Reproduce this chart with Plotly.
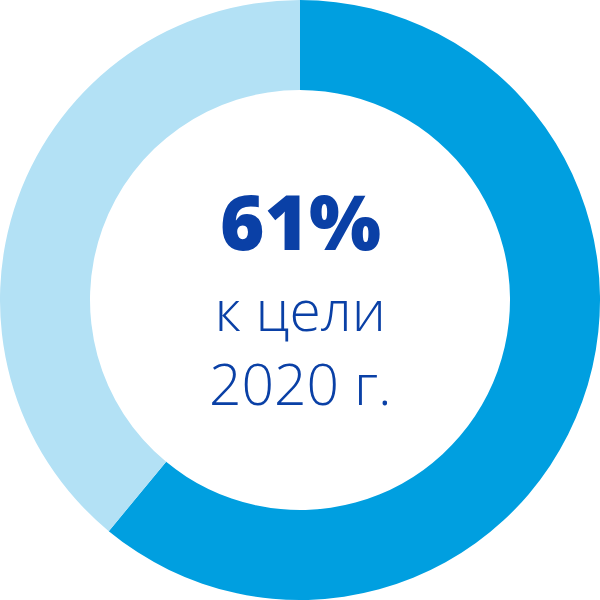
import plotly.graph_objects as go

labels = ['Достигнуто', 'Осталось']
values = [61, 39]
colors = ['#009fe0', '#b3e1f5']
center_value = '61%'
center_lines = ['к цели', '2020 г.']

fig = go.Figure()
fig.add_trace(go.Pie(
    labels=labels,
    values=values,
    hole=0.7,
    sort=False,
    direction='clockwise',
    rotation=0,
    marker=dict(colors=colors, line=dict(width=0)),
    textinfo='none',
    hoverinfo='label+percent',
    showlegend=False,
))

text_color = '#0a40a6'
fig.add_annotation(x=0.5, y=0.632, xref='paper', yref='paper', text=center_value,
                   showarrow=False, font=dict(family='Open Sans', size=76, color=text_color, weight=800))
# both caption lines in one block so they don't collide
fig.add_annotation(x=0.5, y=0.423, xref='paper', yref='paper', text='<br>'.join(center_lines),
                   showarrow=False, align='center',
                   font=dict(family='Open Sans', size=57, color=text_color, weight=300))

fig.update_layout(
    width=600, height=600,
    margin=dict(l=0, r=0, t=0, b=0),
    paper_bgcolor='white',
    plot_bgcolor='white',
)

# drop the default page margin so the ring sits flush in the window
fig.write_html("out.html", config={'displayModeBar': False},
               post_script="document.body.style.margin='0';")
